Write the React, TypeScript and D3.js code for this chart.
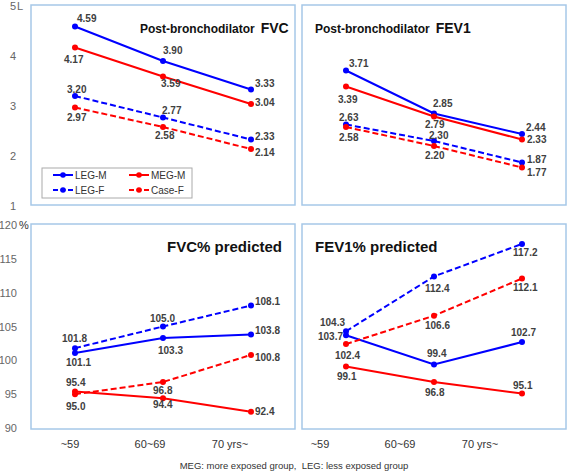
import React from "react";
import * as d3 from "d3";

const categories = ["~59", "60~69", "70 yrs~"];
const seriesNames = ["LEG-M", "MEG-M", "LEG-F", "Case-F"];
const seriesColors = ["#0000ff", "#ff0000", "#0000ff", "#ff0000"];
const seriesDashed = [false, false, true, true];

const fvcValues = [
  [4.59, 3.9, 3.33],
  [4.17, 3.59, 3.04],
  [3.2, 2.77, 2.33],
  [2.97, 2.58, 2.14],
];
const fev1Values = [
  [3.71, 2.85, 2.44],
  [3.39, 2.79, 2.33],
  [2.63, 2.3, 1.87],
  [2.58, 2.2, 1.77],
];
const fvcPredValues = [
  [101.1, 103.3, 103.8],
  [95.4, 94.4, 92.4],
  [101.8, 105.0, 108.1],
  [95.0, 96.8, 100.8],
];
const fev1PredValues = [
  [103.7, 99.4, 102.7],
  [99.1, 96.8, 95.1],
  [104.3, 112.4, 117.2],
  [102.4, 106.6, 112.1],
];

const litreTicks = [1, 2, 3, 4, 5];
const pctTicks = [90, 95, 100, 105, 110, 115, 120];

// label offsets [dx, dy] relative to point (styling, not data)
const fvcOffsets = [
  [[2, -5], [0, -7.5], [4, -3]],
  [[-11, 15], [-2, 10], [4, 1.5]],
  [[-8, -3.5], [-1, -4], [4, 0]],
  [[-8, 13], [-8, 11.5], [4, 6.5]],
];
const fev1Offsets = [
  [[3, -4], [-1, -7], [4, -3]],
  [[-8, 16], [-9, 11], [5, 3.5]],
  [[-7, -4], [-5, -2.5], [5, 0]],
  [[-7, 13.5], [-9, 12.5], [5, 8.5]],
];
const fvcPredOffsets = [
  [[-9, 13.5], [-5, 15.5], [4, -1]],
  [[-9, -5], [-10, 9.5], [4, 3]],
  [[-13, -6.5], [-13, -5], [4, -1]],
  [[-9, 16], [-10, 12], [4, 6.5]],
];
const fev1PredOffsets = [
  [[-28, 5], [-7, -7], [-11, -6.5]],
  [[-9, 14], [-9, 14.5], [-9, -4]],
  [[-26, -5], [-9, 16], [-9, 12.5]],
  [[-11, 14.5], [-9, 13], [-9, 13]],
];

const FONT = "'Liberation Sans', Arial, sans-serif";

type PanelProps = {
  x0: number;
  x1: number;
  y: d3.ScaleLinear<number, number>;
  top: number;
  bottom: number;
  values: number[][];
  offsets: number[][][];
  decimals: number;
};

function Panel({ x0, x1, y, top, bottom, values, offsets, decimals }: PanelProps) {
  const x = d3.scalePoint<string>().domain(categories).range([x0, x1]).padding(0.5);
  const line = d3
    .line<number>()
    .x((_, i) => x(categories[i]) as number)
    .y((v) => y(v));
  return (
    <g>
      <rect x={x0} y={top} width={x1 - x0} height={bottom - top} fill="white" stroke="#a6c8e8" strokeWidth={1.5} />
      {values.map((vals, si) => (
        <g key={si}>
          <path
            d={line(vals) || ""}
            fill="none"
            stroke={seriesColors[si]}
            strokeWidth={2}
            strokeDasharray={seriesDashed[si] ? "6,3" : undefined}
          />
          {vals.map((v, i) => (
            <circle key={i} cx={x(categories[i])} cy={y(v)} r={3} fill={seriesColors[si]} />
          ))}
        </g>
      ))}
      {values.map((vals, si) =>
        vals.map((v, i) => (
          <text
            key={si + "-" + i}
            x={(x(categories[i]) as number) + offsets[si][i][0]}
            y={y(v) + offsets[si][i][1]}
            fontSize={10}
            fontWeight="bold"
            fill="#404040"
            fontFamily={FONT}
          >
            {v.toFixed(decimals)}
          </text>
        ))
      )}
    </g>
  );
}

export default function App() {
  const yTop = d3.scaleLinear().domain([1, 5]).range([206, 6]);
  const yBot = d3.scaleLinear().domain([90, 120]).range([428, 225]);
  const labLeft = d3.scalePoint<string>().domain(categories).range([30, 270]).padding(0.5);
  const labRight = d3.scalePoint<string>().domain(categories).range([280, 520]).padding(0.5);

  return (
    <svg
      width={567}
      height={472}
      style={{ position: "absolute", left: 0, top: 0, background: "white" }}
      fontFamily={FONT}
    >
      {/* y tick labels */}
      {litreTicks.map((t) => (
        <text key={"l" + t} x={16} y={yTop(t) + 4} textAnchor="end" fontSize={11} fill="#666">
          {t}
        </text>
      ))}
      <text x={17} y={yTop(5) + 4} fontSize={11} fill="#666">L</text>
      {pctTicks.map((t) => (
        <text key={"p" + t} x={17} y={yBot(t) + 4} textAnchor="end" fontSize={11} fill="#666">
          {t}
        </text>
      ))}
      <text x={19} y={yBot(120) + 4} fontSize={11} fill="#333">%</text>

      <Panel x0={31} x1={295} y={yTop} top={5} bottom={205} values={fvcValues} offsets={fvcOffsets} decimals={2} />
      <Panel x0={302} x1={566} y={yTop} top={5} bottom={205} values={fev1Values} offsets={fev1Offsets} decimals={2} />
      <Panel x0={31} x1={295} y={yBot} top={224} bottom={429} values={fvcPredValues} offsets={fvcPredOffsets} decimals={1} />
      <Panel x0={302} x1={566} y={yBot} top={224} bottom={429} values={fev1PredValues} offsets={fev1PredOffsets} decimals={1} />

      {/* titles */}
      <text x={140} y={33} fontSize={12} fontWeight="bold" fill="#111">
        Post-bronchodilator
        <tspan dx={6} fontSize={14}>FVC</tspan>
      </text>
      <text x={315} y={33} fontSize={12} fontWeight="bold" fill="#111">
        Post-bronchodilator
        <tspan dx={6} fontSize={14}>FEV1</tspan>
      </text>
      <text x={167} y={252} fontSize={15} fontWeight="bold" fill="#111">FVC% predicted</text>
      <text x={315} y={252} fontSize={15} fontWeight="bold" fill="#111">FEV1% predicted</text>

      {/* legend */}
      <rect x={42} y={168} width={150} height={30} fill="white" stroke="#aaa" strokeWidth={1} />
      {seriesNames.map((name, i) => {
        const col = i % 2;
        const row = Math.floor(i / 2);
        const lx = col === 0 ? 53 : 129;
        const ly = row === 0 ? 175 : 190;
        return (
          <g key={name}>
            <line
              x1={lx}
              x2={lx + 20}
              y1={ly}
              y2={ly}
              stroke={seriesColors[i]}
              strokeWidth={2}
              strokeDasharray={seriesDashed[i] ? "5,2.5" : undefined}
            />
            <circle cx={lx + 10} cy={ly} r={2.8} fill={seriesColors[i]} />
            <text x={lx + 22} y={ly + 3.5} fontSize={10} fill="#333">
              {name}
            </text>
          </g>
        );
      })}

      {/* category labels */}
      {categories.map((c) => (
        <text key={"cl" + c} x={labLeft(c)} y={448} textAnchor="middle" fontSize={11} fill="#333">
          {c}
        </text>
      ))}
      {categories.map((c) => (
        <text key={"cr" + c} x={labRight(c)} y={448} textAnchor="middle" fontSize={11} fill="#333">
          {c}
        </text>
      ))}

      <text x={294} y={469} textAnchor="middle" fontSize={9.5} fill="#333" xmlSpace="preserve">
        MEG: more exposed group,  LEG: less exposed group
      </text>
    </svg>
  );
}
